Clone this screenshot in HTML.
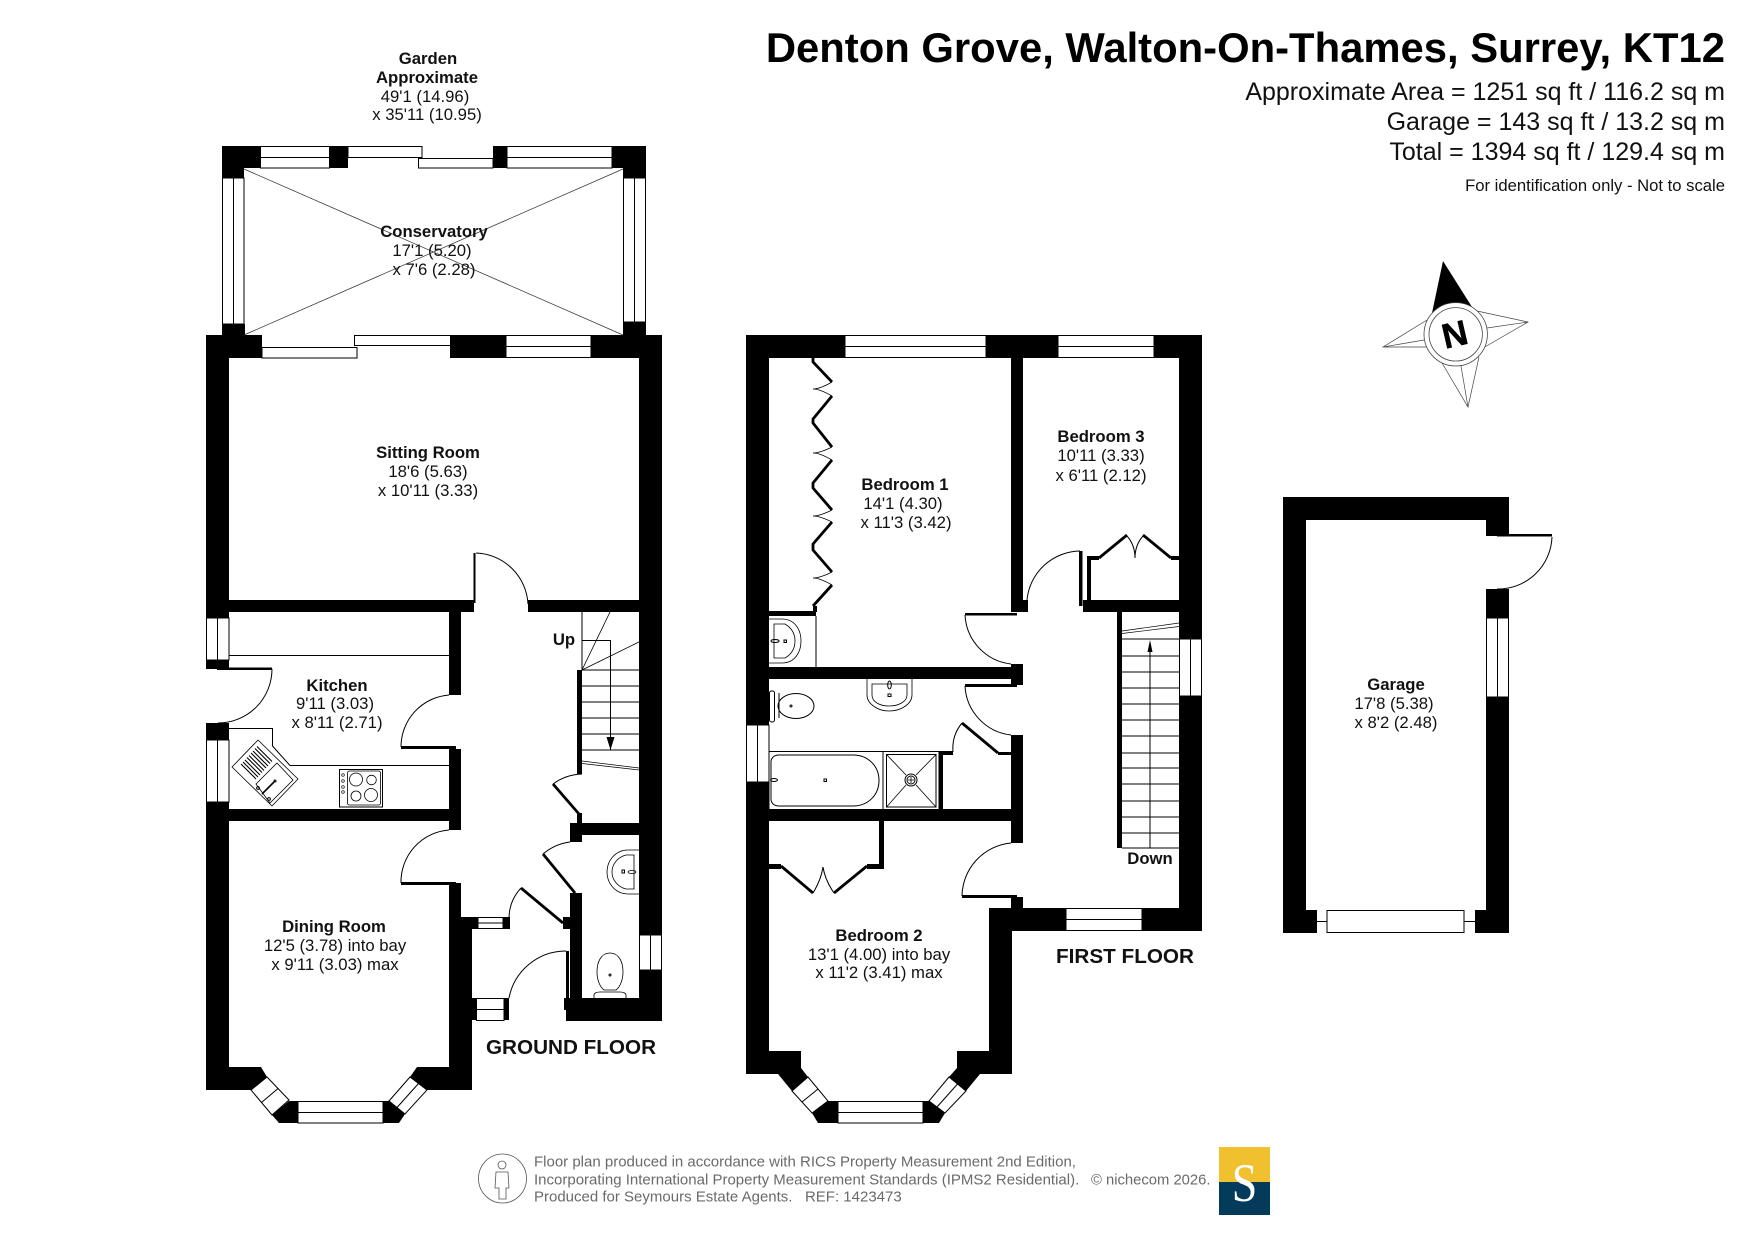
<!DOCTYPE html>
<html><head><meta charset="utf-8"><title>Denton Grove floor plan</title>
<style>
html,body{margin:0;padding:0;background:#fff;width:1755px;height:1241px;overflow:hidden}
svg{display:block}
text{font-family:"Liberation Sans",Arial,sans-serif;fill:#111}
.b{font-weight:bold;font-size:16.7px;text-anchor:middle}
.r{font-size:16.7px;text-anchor:middle}
.f{font-weight:bold;font-size:20.7px;text-anchor:middle}
.h{text-anchor:end;font-size:25px}
.g{font-size:15px;fill:#6a6a6a}
</style></head><body>
<svg width="1755" height="1241" viewBox="0 0 1755 1241" xmlns="http://www.w3.org/2000/svg">
<rect width="1755" height="1241" fill="#fff"/>

<!-- WALLS -->
<g fill="#000">
<!-- conservatory -->
<path d="M222 146H260V168H244V178H222Z"/>
<rect x="330" y="146" width="18" height="22"/>
<rect x="493" y="146" width="14" height="22"/>
<path d="M612 146H646V178H623V168H612Z"/>
<rect x="222" y="324" width="23" height="12"/>
<rect x="623" y="322" width="23" height="14"/>
<!-- ground floor outer -->
<path d="M206 335H262V358H229V612H206Z"/>
<rect x="450" y="335" width="56" height="23"/>
<path d="M591 335H662V935H639V358H591Z"/>
<rect x="229" y="600" width="245" height="12"/>
<rect x="528" y="600" width="111" height="12"/>
<rect x="473.500" y="553" width="2" height="50"/>
<rect x="206" y="612" width="23" height="6"/>
<rect x="206" y="660" width="23" height="9"/>
<rect x="217" y="667.5" width="55" height="2.5"/>
<rect x="206" y="723" width="23" height="17"/>
<rect x="206" y="802" width="23" height="288"/>
<rect x="449" y="612" width="12" height="83"/>
<rect x="401" y="746" width="55" height="3"/>
<rect x="449" y="749" width="12" height="81"/>
<rect x="229" y="809" width="232" height="12"/>
<rect x="401" y="882" width="55" height="3"/>
<rect x="449" y="883" width="12" height="46"/>
<rect x="449" y="917" width="29" height="12"/>
<rect x="503" y="917" width="7" height="12"/>
<rect x="449" y="929" width="23" height="161"/>
<rect x="471" y="998" width="5" height="22"/>
<rect x="504" y="998" width="5" height="22"/>
<rect x="577" y="670" width="5" height="104"/>
<rect x="577" y="813" width="5" height="12"/>
<rect x="570" y="823" width="69" height="12"/>
<rect x="570" y="823" width="12" height="19"/>
<rect x="570" y="893" width="12" height="108"/>
<rect x="563" y="917" width="8" height="12"/>
<rect x="566" y="951" width="3" height="50"/>
<rect x="564" y="998" width="6" height="12"/>
<rect x="566" y="998" width="96" height="23"/>
<rect x="639" y="970" width="23" height="51"/>
<!-- dining bay -->
<rect x="206" y="1067" width="55" height="23"/>
<rect x="417" y="1067" width="55" height="23"/>
<path d="M261 1067L267 1077L251 1090H229V1067Z"/>
<path d="M417 1067L410 1077L427 1090H449V1067Z"/>
<path d="M272 1115L279 1123H298V1101H289Z"/>
<path d="M383 1101H389L405 1114L399 1123H383Z"/>
<!-- first floor -->
<path d="M746 335H845V358H769V725H746Z"/>
<rect x="986" y="335" width="72" height="23"/>
<path d="M1154 335H1202V639H1179V358H1154Z"/>
<rect x="1011" y="358" width="12" height="254"/>
<rect x="1011" y="600" width="17" height="12"/>
<rect x="965" y="613" width="52" height="2.5"/>
<rect x="769" y="611" width="47" height="5"/>
<rect x="813" y="606" width="4" height="6"/>
<rect x="1011" y="664" width="12" height="21"/>
<rect x="769" y="667" width="254" height="12"/>
<rect x="965" y="684" width="52" height="3"/>
<rect x="1083" y="600" width="96" height="12"/>
<rect x="1079" y="551" width="3.5" height="55"/>
<rect x="1087" y="557" width="4" height="43"/>
<rect x="1087" y="556" width="12" height="4"/>
<rect x="1171" y="556" width="8" height="4"/>
<rect x="1117" y="612" width="5" height="236"/>
<rect x="746" y="782" width="23" height="292"/>
<rect x="769" y="809" width="254" height="12"/>
<rect x="1011" y="735" width="12" height="108"/>
<rect x="939" y="751" width="4" height="58"/>
<rect x="939" y="751" width="14" height="4"/>
<rect x="998" y="752" width="13" height="3"/>
<rect x="879" y="821" width="5" height="47"/>
<rect x="867" y="864" width="17" height="5"/>
<rect x="769" y="864" width="12" height="5"/>
<rect x="962" y="895" width="55" height="3"/>
<rect x="1011" y="897" width="12" height="12"/>
<path d="M989 908H1066V931H1012V1074H989Z"/>
<path d="M1142 908H1179V696H1202V931H1142Z"/>
<path d="M746 1051H801V1068L808 1077L792 1091L778 1074H746Z"/>
<path d="M957 1051H1012V1074H980L966 1091L949 1077L957 1068Z"/>
<path d="M812 1113L818 1123H838V1101H828Z"/>
<path d="M923 1101H929L945 1113L939 1123H923Z"/>
<!-- garage -->
<path d="M1283 497H1509V536H1486V520H1306V910H1317V933H1283Z"/>
<rect x="1497" y="534" width="55" height="2.5"/>
<rect x="1486" y="589" width="23" height="29"/>
<path d="M1486 697H1509V933H1475V910H1486Z"/>
</g>

<!-- thick leaves -->
<g fill="none" stroke="#000" stroke-width="2.8">
<path d="M553 784L579 814"/><path d="M543 854L575 893"/><path d="M521 888L563 923"/>
<path d="M1099 558L1127 535"/><path d="M1143 535L1171 558"/>
<path d="M962 723L998 753"/>
<path d="M781 866L813 893"/><path d="M834 893L867 866"/>
<path d="M813 358V362L832 382M832 396L813 419V423L832 447M832 460L813 483V488L832 510M832 522L813 544V550L832 572M832 585L813 606"/>
</g>

<!-- WINDOWS -->
<g fill="#fff" stroke="#000" stroke-width="1">
<rect x="260.500" y="146.500" width="69" height="11"/><rect x="260.500" y="157.500" width="69" height="10.500"/>
<rect x="348" y="146.500" width="74" height="11"/>
<rect x="418.500" y="158.500" width="74.500" height="9.500"/>
<rect x="507" y="146.500" width="105" height="11"/><rect x="507" y="157.500" width="105" height="10.500"/>
<rect x="222.500" y="178" width="11" height="146"/><rect x="233.500" y="178" width="10.500" height="146"/>
<rect x="623.500" y="178" width="11" height="144"/><rect x="634.500" y="178" width="11" height="144"/>
<rect x="262" y="347.500" width="95" height="10.500"/>
<rect x="354.500" y="335.500" width="96" height="10"/>
<rect x="506" y="335.500" width="85" height="11"/><rect x="506" y="346.500" width="85" height="11"/>
<rect x="206.500" y="618" width="11" height="42"/><rect x="217.500" y="618" width="11.500" height="42"/>
<rect x="206.500" y="740" width="11" height="62"/><rect x="217.500" y="740" width="11.500" height="62"/>
<rect x="478" y="917.500" width="25" height="5.500"/><rect x="478" y="923" width="25" height="5.500"/>
<rect x="476.500" y="998.500" width="27.500" height="11"/><rect x="476.500" y="1009.500" width="27.500" height="11"/>
<rect x="639.500" y="935" width="11" height="35"/><rect x="650.500" y="935" width="11" height="35"/>
<rect x="298" y="1101.500" width="85" height="11"/><rect x="298" y="1112.500" width="85" height="10.500"/>
<path d="M267 1077L289 1100L272 1115L251 1090Z"/><path d="M278 1088.500L261.500 1102.500"/>
<path d="M410 1077L389 1101L405 1114L427 1090Z"/><path d="M418.500 1083.500L397 1107.500"/>
<rect x="845" y="335.500" width="141" height="11"/><rect x="845" y="346.500" width="141" height="11"/>
<rect x="1058" y="335.500" width="96" height="11"/><rect x="1058" y="346.500" width="96" height="11"/>
<rect x="746.500" y="725" width="11" height="57"/><rect x="757.500" y="725" width="11.500" height="57"/>
<rect x="1179.500" y="639" width="11" height="57"/><rect x="1190.500" y="639" width="11" height="57"/>
<rect x="1066" y="908.500" width="76" height="11"/><rect x="1066" y="919.500" width="76" height="11"/>
<rect x="838" y="1101.500" width="85" height="11"/><rect x="838" y="1112.500" width="85" height="10.500"/>
<path d="M808 1077L828 1101L812 1113L792 1091Z"/><path d="M818 1089L802 1102"/>
<path d="M949 1077L929 1101L945 1113L966 1091Z"/><path d="M957.500 1084L937 1107"/>
<rect x="1486.500" y="618" width="11" height="79"/><rect x="1497.500" y="618" width="11" height="79"/>
<rect x="1327" y="910.500" width="137" height="22" fill="#fff"/>
</g>

<!-- THIN LINES / FIXTURES -->
<g fill="none" stroke="#000" stroke-width="1">
<path d="M1317 921.500H1327M1464 921.500H1475"/>
<path d="M229 655.500H449"/>
<path d="M229 728.500H272.500V746L290 765.500H449"/>
<!-- door arcs -->
<path d="M476 553A54 54 0 0 1 528 604"/>
<path d="M272 669A54 54 0 0 1 218 723"/>
<path d="M449 695A52 52 0 0 0 401 747"/>
<path d="M449 830A52 52 0 0 0 401 883"/>
<path d="M582 774A52 52 0 0 0 553 784"/>
<path d="M570 842A52 52 0 0 0 543 854"/>
<path d="M521 888A45 45 0 0 0 509 918"/>
<path d="M566 951A58 58 0 0 0 509 998"/>
<path d="M965 615A52 52 0 0 0 1011 664"/>
<path d="M1080 551A54 54 0 0 0 1027 600"/>
<path d="M965 686A52 52 0 0 0 1011 735"/>
<path d="M953 752A40 40 0 0 1 962 723"/>
<path d="M1011 843A54 54 0 0 0 962 896"/>
<path d="M1552 537A54 54 0 0 1 1497 589"/>
<path d="M1127 536Q1135 545 1135 558M1143 536Q1135 545 1135 558"/>
<path d="M813 893Q821 880 823 867M834 893Q825 880 823 867"/>
<!-- wardrobe folds -->
<g stroke-width=".8"><path d="M832 382Q820 389 813 389Q820 389 832 396M832 447Q820 453 813 453Q820 453 832 460M832 510Q820 516 813 516Q820 516 832 522M832 572Q820 578 813 578Q820 578 832 585"/></g>
<!-- ground stairs -->
<path d="M582 612V670"/>
<path d="M582 670H639M582 686H639M582 702H639M582 718H639M582 734H639M582 750H639"/>
<path d="M582 670L610 612M582 670L639 642" stroke-width=".8"/>
<path d="M582 640.500H610.500V750"/>
<path d="M582 761L639 768M582 763.500L639 770" stroke-width=".7"/>
<!-- first stairs -->
<path d="M1122 639H1179M1122 656H1179M1122 672H1179M1122 688H1179M1122 704H1179M1122 720H1179M1122 736H1179M1122 753H1179M1122 768H1179M1122 784H1179M1122 801H1179M1122 817H1179M1122 833H1179M1122 848H1179"/>
<path d="M1150 645V848"/>
<path d="M1122 631L1179 623M1122 633.500L1179 626.500" stroke-width=".7"/>
<!-- bed 1 cupboard / sink -->
<path d="M816 616V667"/>
<path d="M769 619H782C795 619 801 630 801 641C801 652 795 663 782 663H769" stroke-width=".8"/>
<path d="M774 624H785C792 628 795 634 795 641C795 648 792 654 785 658H774Z" stroke-width=".8"/>
<rect x="784" y="640" width="2.500" height="2.500"/>
<ellipse cx="775" cy="641" rx="4" ry="1.500"/>
<!-- bathroom -->
<rect x="769.500" y="691" width="5" height="31" rx="2"/>
<ellipse cx="796" cy="706" rx="18" ry="12.500"/><path d="M779 693V718"/>
<circle cx="791" cy="706" r="1"/>
<path d="M867 679V695C867 704 878 711 889 711C901 711 912 704 912 695V679" stroke-width=".8"/>
<path d="M872 684H907V695C907 702 898 706 889 706C880 706 872 702 872 695Z" stroke-width=".8"/>
<rect x="888" y="694" width="3" height="2.500"/><ellipse cx="889.500" cy="685" rx="1.800" ry="4"/>
<rect x="769" y="751.500" width="114" height="58"/>
<path d="M779 755H853C868 755 879 766 879 780.500C879 795 868 806 853 806H779C774 806 771 803 771 799V762C771 758 774 755 779 755Z"/>
<rect x="824" y="779" width="2.500" height="2.500"/><ellipse cx="774" cy="780" rx="3.500" ry="1.500"/>
<rect x="883" y="751.500" width="56" height="58"/>
<rect x="886.500" y="754.500" width="49.500" height="52.500"/>
<path d="M886.500 754.500L906 775M936 754.500L916 775M886.500 807L906 785M936 807L916 785" stroke-width=".8"/>
<circle cx="911" cy="780" r="6"/><circle cx="911" cy="780" r="4"/><path d="M908 780H914M911 777V783" stroke-width=".8"/>
<!-- WC -->
<path d="M639 850H628C616 850 607 860 607 872C607 884 616 894 628 894H639" stroke-width=".8"/>
<path d="M634 855H626C618 857 612 864 612 872C612 880 618 887 626 889H634Z" stroke-width=".8"/>
<rect x="622" y="870" width="2.500" height="3"/><ellipse cx="632" cy="872" rx="4" ry="1.500" stroke-width=".7"/>
<path d="M610 953C601 953 597 962 597 972C597 980 600 987 604 990H616C620 987 623 980 623 972C623 962 619 953 610 953Z" stroke-width=".8"/>
<path d="M594 998V995C594 993 597 992 600 992H620C623 992 626 993 626 995V998" stroke-width=".8"/>
<circle cx="610" cy="975" r="1"/>
<!-- hob -->
<rect x="339.500" y="769.500" width="43" height="37.500"/>
<rect x="347.500" y="771" width="33" height="34" rx="2" stroke-width=".8"/>
<circle cx="356" cy="779.500" r="6.500" stroke-width=".8"/><circle cx="371.500" cy="780" r="4.800" stroke-width=".8"/>
<circle cx="356" cy="796" r="5" stroke-width=".8"/><circle cx="371" cy="795" r="6.500" stroke-width=".8"/>
<circle cx="343" cy="775" r="1.300" stroke-width=".7"/><circle cx="343" cy="781" r="1.300" stroke-width=".7"/><circle cx="343" cy="787" r="1.300" stroke-width=".7"/><circle cx="343" cy="792" r="1.300" stroke-width=".7"/>
<!-- sink -->
<path d="M258 740L298 779L272 806L232 767Z" stroke-width=".8" stroke-linejoin="round"/>
<path d="M277 763L293 780L270 803L256 784Z" stroke-width=".8"/>
<path d="M241 764L256 779M243 762L258 777M245 760L260 775M247 757.500L262 772.500M249 755.500L264 770.500M251 753L266 768M253 751L268 766M255 748.500L270 763.500M257 746.500L272 761.500" stroke-width="1.100"/>
<path d="M262 794L275 781" stroke-width="1.600"/>
<circle cx="258" cy="788" r="1.400"/><circle cx="269" cy="799" r="1.400"/><circle cx="275" cy="781" r="1"/>
</g>
<path d="M610.500 750L606.500 737H614.500Z" fill="#000"/>
<path d="M1150 640L1147.500 652H1152.500Z" fill="#000"/>
<path d="M244 169L623 335M623 169L244 335" stroke="#333" stroke-width=".7" fill="none"/>

<!-- COMPASS -->
<path d="M1443 261L1432 313L1472 307Z" fill="#000"/>
<g fill="none" stroke="#444" stroke-width=".7">
<path d="M1477 311L1528 322L1483 348M1487 328L1528 322"/>
<path d="M1427 320L1383 347L1435 347M1424 340L1383 347"/>
<path d="M1442 363L1468 407L1479 357M1461 366L1468 407"/>
</g>
<circle cx="1455.700" cy="334.300" r="31.700" fill="#fff" stroke="#444" stroke-width=".8"/>
<circle cx="1455.700" cy="334.300" r="26.700" fill="#fff" stroke="#444" stroke-width=".8"/>
<text x="0" y="0" transform="translate(1457.500 346) rotate(-13)" style="font-size:35px;font-weight:bold;text-anchor:middle;fill:#000;stroke:#000;stroke-width:.5">N</text>

<!-- LABELS -->
<text class="b" x="428" y="64">Garden</text>
<text class="b" x="427" y="83">Approximate</text>
<text class="r" x="425" y="102">49'1 (14.96)</text>
<text class="r" x="427" y="120">x 35'11 (10.95)</text>
<text class="b" x="434" y="237">Conservatory</text>
<text class="r" x="432" y="256">17'1 (5.20)</text>
<text class="r" x="434" y="275">x 7'6 (2.28)</text>
<text class="b" x="428" y="458">Sitting Room</text>
<text class="r" x="428" y="477">18'6 (5.63)</text>
<text class="r" x="428" y="496">x 10'11 (3.33)</text>
<text class="b" x="337" y="691">Kitchen</text>
<text class="r" x="335" y="709">9'11 (3.03)</text>
<text class="r" x="337" y="728">x 8'11 (2.71)</text>
<text class="b" x="334" y="932">Dining Room</text>
<text class="r" x="335" y="951">12'5 (3.78) into bay</text>
<text class="r" x="335" y="970">x 9'11 (3.03) max</text>
<text class="b" x="564" y="645">Up</text>
<text class="f" x="571" y="1054">GROUND FLOOR</text>
<text class="b" x="905" y="490">Bedroom 1</text>
<text class="r" x="903" y="509">14'1 (4.30)</text>
<text class="r" x="906" y="528">x 11'3 (3.42)</text>
<text class="b" x="1101" y="442">Bedroom 3</text>
<text class="r" x="1101" y="461">10'11 (3.33)</text>
<text class="r" x="1101" y="481">x 6'11 (2.12)</text>
<text class="b" x="1150" y="864">Down</text>
<text class="b" x="879" y="941">Bedroom 2</text>
<text class="r" x="879" y="960">13'1 (4.00) into bay</text>
<text class="r" x="879" y="978">x 11'2 (3.41) max</text>
<text class="f" x="1125" y="963">FIRST FLOOR</text>
<text class="b" x="1396" y="690">Garage</text>
<text class="r" x="1394" y="709">17'8 (5.38)</text>
<text class="r" x="1396" y="728">x 8'2 (2.48)</text>

<!-- HEADER -->
<text x="1725" y="62" text-anchor="end" style="font-size:41.800px;font-weight:bold;fill:#000">Denton Grove, Walton-On-Thames, Surrey, KT12</text>
<text class="h" x="1725" y="100">Approximate Area = 1251 sq ft / 116.2 sq m</text>
<text class="h" x="1725" y="130">Garage = 143 sq ft / 13.2 sq m</text>
<text class="h" x="1725" y="160">Total = 1394 sq ft / 129.4 sq m</text>
<text x="1725" y="191" text-anchor="end" style="font-size:16.650px">For identification only - Not to scale</text>

<!-- FOOTER -->
<ellipse cx="502.500" cy="1178.500" rx="24" ry="24.500" fill="none" stroke="#555" stroke-width=".8"/>
<circle cx="502" cy="1165" r="4" fill="none" stroke="#555" stroke-width=".8"/>
<path d="M496 1172H508L509 1188H506V1199H499V1188H495Z" fill="none" stroke="#555" stroke-width=".8"/>
<text class="g" x="534" y="1166.500">Floor plan produced in accordance with RICS Property Measurement 2nd Edition,</text>
<text class="g" x="534" y="1184.500">Incorporating International Property Measurement Standards (IPMS2 Residential).</text>
<text class="g" x="534" y="1201.500">Produced for Seymours Estate Agents.&#160;&#160;&#160;REF: 1423473</text>
<text class="g" x="1091" y="1184.500" style="font-size:14.800px">© nichecom 2026.</text>
<rect x="1219" y="1147" width="51" height="35" fill="#f0c02e"/>
<rect x="1219" y="1182" width="51" height="33" fill="#053b5a"/>
<text x="0" y="0" transform="translate(1244.500 1201) scale(.85 1)" text-anchor="middle" style="font-family:'Liberation Serif',serif;font-size:54px;fill:#fff">S</text>
</svg>
</body></html>
